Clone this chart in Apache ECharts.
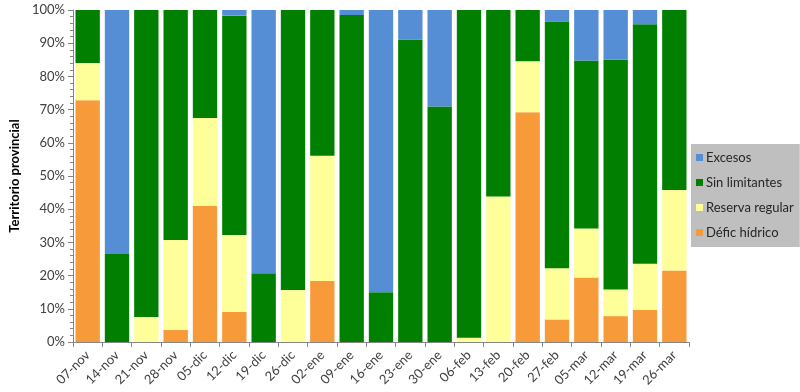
<!DOCTYPE html>
<html><head><meta charset="utf-8">
<script src="https://cdn.jsdelivr.net/npm/echarts@6/dist/echarts.min.js"></script>
<style>html,body{margin:0;padding:0;background:#fff}#c{width:800px;height:392px}</style>
</head><body><div id="c"></div>
<script>
const categories = ['07-nov','14-nov','21-nov','28-nov','05-dic','12-dic','19-dic','26-dic','02-ene','09-ene','16-ene','23-ene','30-ene','06-feb','13-feb','20-feb','27-feb','05-mar','12-mar','19-mar','26-mar'];
const deficit   = [72.8, 0, 0, 3.6, 41.0, 9.1, 0, 0, 18.4, 0, 0, 0, 0, 0, 0, 69.2, 6.8, 19.4, 7.8, 9.7, 21.5];
const reserva   = [11.2, 0, 7.5, 27.1, 26.5, 23.1, 0, 15.7, 37.7, 0, 0, 0, 0, 1.3, 43.8, 15.4, 15.4, 14.8, 8.0, 13.9, 24.3];
const sinLim    = [16.0, 26.5, 92.5, 69.3, 32.5, 66.1, 20.7, 84.3, 43.9, 98.5, 15.0, 91.0, 70.9, 98.7, 56.2, 15.4, 74.3, 50.6, 69.2, 72.1, 54.2];
const excesos   = [0, 73.5, 0, 0, 0, 1.7, 79.3, 0, 0, 1.5, 85.0, 9.0, 29.1, 0, 0, 0, 3.5, 15.2, 15.0, 4.3, 0];
const yTicks = [0,10,20,30,40,50,60,70,80,90,100];

const chart = echarts.init(document.getElementById('c'));
const FONT = 'Lato';
function ser(name, data, color){
  return {name, type:'bar', stack:'t', data, barCategoryGap:'17%',
    itemStyle:{color}, emphasis:{disabled:true}};
}
chart.setOption({
  animation:false,
  textStyle:{fontFamily:FONT},
  grid:{left:72, right:111, top:10, bottom:50},
  legend:{
    orient:'vertical', left:691, top:144,
    backgroundColor:'#BFBFBF', padding:[7,6,8,5],
    itemWidth:7, itemHeight:7, itemGap:12, icon:'rect',
    textStyle:{fontFamily:FONT, fontSize:13, color:'#262626', padding:[0,0,0,-2]},
    data:['Excesos','Sin limitantes','Reserva regular','Défic hídrico']
  },
  xAxis:{
    type:'category', data:categories,
    axisLine:{lineStyle:{color:'#868686'}},
    axisTick:{show:true, length:5, lineStyle:{color:'#868686'}},
    axisLabel:{rotate:45, fontSize:13, color:'#404040', margin:11, interval:0, fontFamily:FONT}
  },
  yAxis:{
    type:'value', min:0, max:100, interval:10,
    name:'Territorio provincial', nameLocation:'middle', nameGap:52,
    nameTextStyle:{fontWeight:'bold', fontSize:13, color:'#000', fontFamily:FONT},
    axisLine:{show:true, lineStyle:{color:'#868686'}},
    axisTick:{show:true, length:5, lineStyle:{color:'#868686'}},
    minorTick:{show:true, splitNumber:5, length:3, lineStyle:{color:'#868686'}},
    splitLine:{show:false},
    axisLabel:{formatter: v => yTicks.includes(v) ? v + '%' : '', fontSize:13, color:'#404040', margin:8, fontFamily:FONT}
  },
  series:[
    ser('Défic hídrico', deficit, '#F79A3A'),
    ser('Reserva regular', reserva, '#FFFF99'),
    ser('Sin limitantes', sinLim, '#007F00'),
    ser('Excesos', excesos, '#558ED5')
  ]
});
</script></body></html>
